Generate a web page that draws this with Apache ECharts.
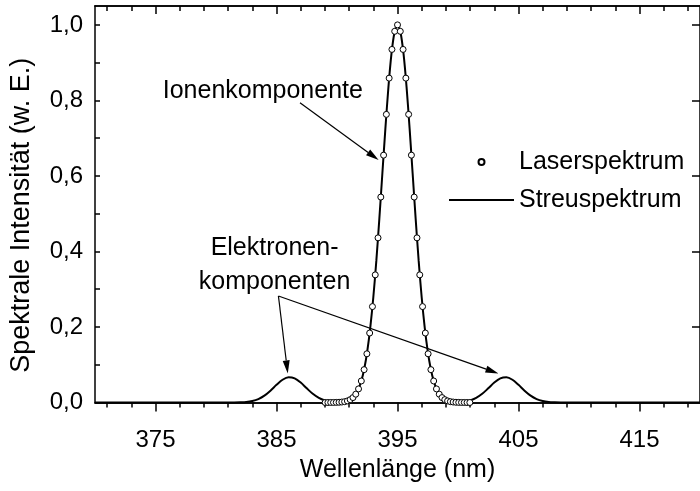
<!DOCTYPE html>
<html>
<head>
<meta charset="utf-8">
<script src="https://cdn.jsdelivr.net/npm/echarts@6/dist/echarts.min.js"></script>
<style>
  html, body { margin: 0; padding: 0; background: #fff; }
  #chart { width: 700px; height: 491px; }
</style>
</head>
<body>
<div id="chart"></div>
<script>
// Laser profile (open circles): wavelength in nm and normalised intensity
const laserWavelength = [
  389.02, 389.25, 389.48, 389.71, 389.94, 390.17, 390.40, 390.63, 390.86, 391.09,
  391.32, 391.55, 391.78, 392.01, 392.24, 392.47, 392.70, 392.93, 393.16, 393.39,
  393.62, 393.85, 394.08, 394.31, 394.54, 394.77, 395.00, 395.23, 395.46, 395.69,
  395.92, 396.15, 396.38, 396.61, 396.84, 397.07, 397.30, 397.53, 397.76, 397.99,
  398.22, 398.45, 398.68, 398.91, 399.14, 399.37, 399.60, 399.83, 400.06, 400.29,
  400.52, 400.75, 400.98
];
const laserIntensity = [
  0, 0, 0.0001, 0.0001, 0.0003, 0.0006, 0.0012, 0.0022, 0.0042, 0.0075,
  0.013, 0.022, 0.036, 0.057, 0.087, 0.129, 0.184, 0.254, 0.338, 0.436,
  0.544, 0.655, 0.763, 0.859, 0.935, 0.983, 1.000, 0.983, 0.935, 0.859,
  0.763, 0.655, 0.544, 0.436, 0.338, 0.254, 0.184, 0.129, 0.087, 0.057,
  0.036, 0.022, 0.013, 0.0075, 0.0042, 0.0022, 0.0012, 0.0006, 0.0003, 0.0001,
  0.0001, 0, 0
];

// Scattered spectrum (solid line): ion component plus two electron satellites
const scatterWavelength = [
  370, 375, 380, 381, 381.5, 382, 382.5, 383, 383.5, 384, 384.5, 385, 385.5, 386,
  386.5, 387, 387.5, 388, 388.5, 389, 389.5, 390, 390.5, 391, 391.25, 391.5, 391.75,
  392, 392.25, 392.5, 392.75, 393, 393.25, 393.5, 393.75, 394, 394.25, 394.5, 394.75,
  395, 395.25, 395.5, 395.75, 396, 396.25, 396.5, 396.75, 397, 397.25, 397.5, 397.75,
  398, 398.25, 398.5, 398.75, 399, 399.5, 400, 400.5, 401, 401.5, 402, 402.5, 403,
  403.5, 404, 404.5, 405, 405.5, 406, 406.5, 407, 407.5, 408, 408.5, 409, 410, 415, 420
];
const scatterIntensity = [
  0, 0, 0, 0, 0.0001, 0.0005, 0.0014, 0.0039, 0.0091, 0.0182, 0.0314, 0.0468, 0.0602, 0.0669,
  0.0639, 0.0527, 0.0375, 0.0230, 0.0122, 0.0056, 0.0023, 0.0010, 0.0017, 0.0060, 0.0111, 0.0198, 0.0340,
  0.0561, 0.0889, 0.1353, 0.198, 0.278, 0.375, 0.487, 0.607, 0.726, 0.835, 0.923, 0.980,
  1.000, 0.980, 0.923, 0.835, 0.726, 0.607, 0.487, 0.375, 0.278, 0.198, 0.1353, 0.0889,
  0.0561, 0.0340, 0.0198, 0.0111, 0.0060, 0.0017, 0.0010, 0.0023, 0.0056, 0.0122, 0.0230, 0.0375, 0.0527,
  0.0639, 0.0669, 0.0602, 0.0468, 0.0314, 0.0182, 0.0091, 0.0039, 0.0014, 0.0005, 0.0001, 0, 0, 0, 0
];

// Axis ticks and labels
const xTickLabels = [375, 385, 395, 405, 415];
const xMinorTicks = [371, 373, 377, 379, 381, 383, 387, 389, 391, 393, 397, 399, 401, 403, 407, 409, 411, 413, 417, 419];
const yTickLabels = [0, 0.2, 0.4, 0.6, 0.8, 1.0];
const yTicks = [0, 0.1, 0.2, 0.3, 0.4, 0.5, 0.6, 0.7, 0.8, 0.9, 1.0];

// Text annotations and arrows, placed in data coordinates
const annotationTexts = [
  { text: 'Ionenkomponente', at: [375.6, 0.825], align: 'left' },
  { text: 'Elektronen-\nkomponenten', at: [384.84, 0.364], align: 'center' }
];
const annotationArrows = [
  { from: [386.94, 0.794], to: [393.44, 0.642] },
  { from: [385.16, 0.282], to: [385.93, 0.077] },
  { from: [385.16, 0.282], to: [403.34, 0.077] }
];

const FONT = "'Liberation Sans', Arial, Helvetica, sans-serif";
const BLACK = '#000';

const chart = echarts.init(document.getElementById('chart'), null, { renderer: 'canvas' });

const zip = (xs, ys) => xs.map((x, i) => [x, ys[i]]);
const commaFmt = v => v.toFixed(1).replace('.', ',');

function xAxisDef(position, ticks, len, inside, withLabels) {
  return {
    type: 'value', position, min: 370, max: 420,
    axisLine: { show: true, onZero: false, lineStyle: { color: BLACK, width: 1.5 } },
    axisTick: { show: true, inside, length: len, customValues: ticks, lineStyle: { color: BLACK, width: 1.5 } },
    axisLabel: withLabels ? {
      show: true, customValues: xTickLabels, margin: 26,
      color: BLACK, fontFamily: FONT, fontSize: 24, formatter: v => String(v)
    } : { show: false },
    splitLine: { show: false }
  };
}

const option = {
  animation: false,
  backgroundColor: '#fff',
  grid: { left: 95, right: -5, top: 6, bottom: 88.5, containLabel: false },
  legend: {
    orient: 'vertical', left: 448, top: 148, padding: 0,
    itemWidth: 65, itemHeight: 6, itemGap: 10, selectedMode: false,
    textStyle: { color: BLACK, fontFamily: FONT, fontSize: 25, lineHeight: 28 },
    data: ['Laserspektrum', 'Streuspektrum']
  },
  xAxis: [
    Object.assign(xAxisDef('bottom', xTickLabels, 9, false, true), {
      name: 'Wellenlänge (nm)', nameLocation: 'middle', nameGap: 55,
      nameTextStyle: { color: BLACK, fontFamily: FONT, fontSize: 25 }
    }),
    xAxisDef('bottom', xMinorTicks, 5, false, false),
    xAxisDef('top', xTickLabels, 8, true, false),
    xAxisDef('top', xMinorTicks, 5, true, false)
  ],
  yAxis: [
    {
      type: 'value', position: 'left', min: 0, max: 1.05,
      axisLine: { show: true, onZero: false, lineStyle: { color: BLACK, width: 1.5 } },
      axisTick: { show: true, inside: true, length: 5, customValues: yTicks, lineStyle: { color: BLACK, width: 1.5 } },
      axisLabel: { customValues: yTickLabels, margin: 12, color: BLACK, fontFamily: FONT, fontSize: 24, formatter: commaFmt },
      splitLine: { show: false },
      name: 'Spektrale Intensität (w. E.)', nameLocation: 'middle', nameGap: 60,
      nameTextStyle: { color: BLACK, fontFamily: FONT, fontSize: 27, padding: [0, 22, 0, 0] }
    },
    {
      type: 'value', position: 'right', min: 0, max: 1.05,
      axisLine: { show: true, onZero: false, lineStyle: { color: BLACK, width: 1.5 } },
      axisTick: { show: true, inside: true, length: 8, customValues: yTickLabels.slice(1), lineStyle: { color: BLACK, width: 1.5 } },
      axisLabel: { show: false },
      splitLine: { show: false }
    }
  ],
  series: [
    {
      name: 'Streuspektrum', type: 'line', xAxisIndex: 0, yAxisIndex: 0,
      data: zip(scatterWavelength, scatterIntensity),
      symbol: 'none', smooth: 0.3, clip: false, z: 2,
      lineStyle: { color: BLACK, width: 2 },
      itemStyle: { color: 'rgba(0,0,0,0)', borderWidth: 0 }
    },
    {
      name: 'Laserspektrum', type: 'scatter', xAxisIndex: 0, yAxisIndex: 0,
      data: zip(laserWavelength, laserIntensity),
      symbol: 'circle', symbolSize: 6, z: 3,
      itemStyle: { color: '#fff', borderColor: BLACK, borderWidth: 1, opacity: 1 }
    }
  ]
};

chart.setOption(option);

// Annotations: convert the data anchors to pixels through the grid
const toPx = p => chart.convertToPixel({ gridIndex: 0 }, p);
const graphics = [];

annotationTexts.forEach(t => {
  const [x, y] = toPx(t.at);
  graphics.push({
    type: 'text', z: 10,
    style: {
      text: t.text, x, y, font: '25px ' + FONT, fill: BLACK,
      align: t.align, verticalAlign: 'middle', textAlign: t.align, textVerticalAlign: 'middle',
      lineHeight: 34
    }
  });
});

const HEAD_LEN = 13, HEAD_W = 7;
annotationArrows.forEach(a => {
  const p0 = toPx(a.from), p1 = toPx(a.to);
  const dx = p1[0] - p0[0], dy = p1[1] - p0[1];
  const len = Math.hypot(dx, dy);
  const ux = dx / len, uy = dy / len, nx = -uy, ny = ux;
  const bx = p1[0] - ux * HEAD_LEN, by = p1[1] - uy * HEAD_LEN;
  graphics.push({
    type: 'line', z: 10,
    shape: { x1: p0[0], y1: p0[1], x2: bx, y2: by },
    style: { stroke: BLACK, lineWidth: 1.2 }
  });
  graphics.push({
    type: 'polygon', z: 10,
    shape: { points: [[p1[0], p1[1]], [bx + nx * HEAD_W / 2, by + ny * HEAD_W / 2], [bx - nx * HEAD_W / 2, by - ny * HEAD_W / 2]] },
    style: { fill: BLACK }
  });
});

chart.setOption({ graphic: graphics });
</script>
</body>
</html>
